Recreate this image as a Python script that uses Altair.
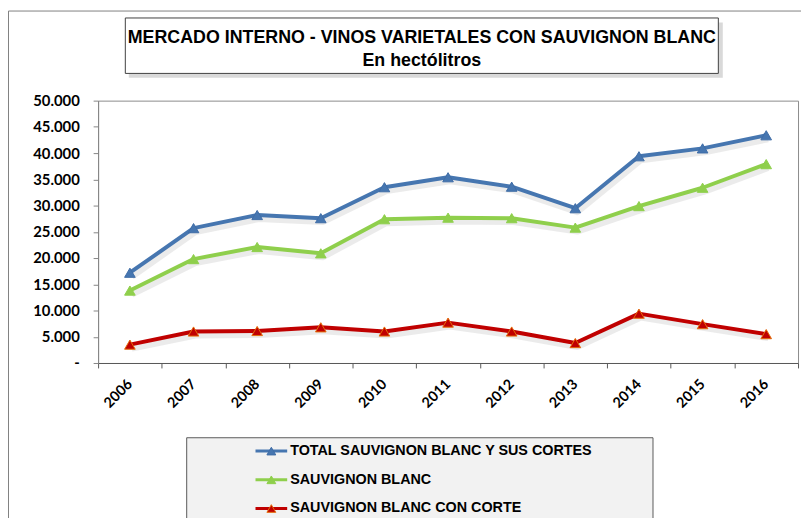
import altair as alt
import pandas as pd

# ---------------- data ----------------
years = ["2006", "2007", "2008", "2009", "2010", "2011", "2012", "2013", "2014", "2015", "2016"]
series = [
    "TOTAL SAUVIGNON BLANC Y SUS CORTES",
    "SAUVIGNON BLANC",
    "SAUVIGNON BLANC CON CORTE",
]
total = [17200, 25700, 28200, 27600, 33500, 35400, 33600, 29500, 39400, 40900, 43400]
sauvignon = [13800, 19800, 22100, 20900, 27400, 27700, 27600, 25800, 29900, 33400, 37900]
con_corte = [3500, 6000, 6100, 6800, 6000, 7700, 6000, 3800, 9400, 7400, 5500]
y_ticks = [0, 5000, 10000, 15000, 20000, 25000, 30000, 35000, 40000, 45000, 50000]
title_lines = ["MERCADO INTERNO - VINOS VARIETALES CON SAUVIGNON BLANC", "En hectólitros"]

line_colors = ["#4676b0", "#8fcf4c", "#c00000"]
marker_edges = ["#3f6ca6", "#8fcf4c", "#e46c0a"]

rows = []
for name, vals in zip(series, [total, sauvignon, con_corte]):
    for yr, v in zip(years, vals):
        rows.append({"year": yr, "serie": name, "value": v})
df = pd.DataFrame(rows)
legend_df = pd.DataFrame({"serie": series, "row": [0, 1, 2]})
one = pd.DataFrame({"k": [0]})

NARROW = "Liberation Sans Narrow, Arial Narrow, Liberation Sans, Arial, sans-serif"
LABEL_FONT = "Lato, Open Sans, sans-serif"
W, H = 707, 265

# ---------------- encodings ----------------
x_enc = alt.X(
    "year:O",
    sort=years,
    scale=alt.Scale(type="band", paddingInner=0, paddingOuter=0),
    axis=alt.Axis(
        title=None,
        tickBand="extent",
        labelAngle=-45,
        labelAlign="right",
        labelBaseline="middle",
        labelPadding=14,
        tickSize=5,
        labelFont=LABEL_FONT,
        labelFontSize=14.5,
        labelFontWeight="bold",
        labelColor="#000000",
        domainColor="#595959",
        tickColor="#595959",
        grid=False,
    ),
)
y_scale = alt.Scale(domain=[0, 50000], nice=False, zero=True)
y_axis = alt.Axis(
    title=None,
    values=y_ticks,
    labelExpr="datum.value == 0 ? '-\u00a0\u00a0' : replace(format(datum.value, ',.0f'), ',', '.')",
    tickSize=5,
    labelPadding=14,
    labelFont=LABEL_FONT,
    labelFontSize=15,
    labelFontWeight="bold",
    labelColor="#000000",
    domainColor="#868686",
    tickColor="#868686",
    grid=False,
)
color_enc = alt.Color("serie:N", scale=alt.Scale(domain=series, range=line_colors), legend=None)
stroke_enc = alt.Stroke("serie:N", scale=alt.Scale(domain=series, range=marker_edges), legend=None)

base = alt.Chart(df)

shadow = base.mark_line(color="#808080", opacity=0.16, strokeWidth=6, xOffset=2, yOffset=4, strokeJoin="round").encode(
    x=x_enc,
    y=alt.Y("value:Q", scale=y_scale, axis=None),
    detail="serie:N",
)
lines = base.mark_line(strokeWidth=4, strokeJoin="round").encode(
    x=x_enc,
    y=alt.Y("value:Q", scale=y_scale, axis=y_axis),
    color=color_enc,
)
points = base.mark_point(shape="triangle-up", filled=True, size=115, strokeWidth=1, opacity=1).encode(
    x=x_enc,
    y=alt.Y("value:Q", scale=y_scale, axis=None),
    color=color_enc,
    stroke=stroke_enc,
)

# ---------------- decorations ----------------
frame = alt.Chart(one).mark_rect(fill="transparent", stroke="#7f7f7f", strokeWidth=1).encode(
    x=alt.value(-90.5), x2=alt.value(720), y=alt.value(-90.5), y2=alt.value(520)
)
title_shadow = alt.Chart(one).mark_rect(fill="#d9d9d9").encode(
    x=alt.value(31), x2=alt.value(631), y=alt.value(-79), y2=alt.value(-23)
)
title_box = alt.Chart(one).mark_rect(fill="#ffffff", stroke="#404040", strokeWidth=1).encode(
    x=alt.value(27.5), x2=alt.value(626.5), y=alt.value(-83.5), y2=alt.value(-27.5)
)
title_text = alt.Chart(one).mark_text(
    text=title_lines,
    font=NARROW,
    fontSize=18,
    fontWeight="bold",
    color="#000000",
    align="center",
    baseline="alphabetic",
    lineHeight=24,
).encode(x=alt.value(327), y=alt.value(-58.5))

legend_box = alt.Chart(one).mark_rect(fill="#f2f2f2", stroke="#595959", strokeWidth=1).encode(
    x=alt.value(89.5), x2=alt.value(560.5), y=alt.value(340.5), y2=alt.value(440)
)
leg_y = alt.Y("row:Q", scale=alt.Scale(domain=[0, 2], range=[354, 412]), axis=None)
leg_line = alt.Chart(legend_df).mark_rule(strokeWidth=3).encode(
    x=alt.value(159), x2=alt.value(191), y=leg_y, color=color_enc
)
leg_pt = alt.Chart(legend_df).mark_point(shape="triangle-up", filled=True, size=80, strokeWidth=1, opacity=1).encode(
    x=alt.value(175), y=leg_y, color=color_enc, stroke=stroke_enc
)
leg_txt = alt.Chart(legend_df).mark_text(
    align="left", baseline="middle", font=NARROW, fontSize=14.5, fontWeight="bold", color="#000000"
).encode(x=alt.value(194), y=leg_y, text="serie:N")

chart = (
    alt.layer(
        frame, title_shadow, title_box, title_text, legend_box,
        shadow, lines, points, leg_line, leg_pt, leg_txt,
    )
    .resolve_scale(y="independent")
    .properties(
        width=W,
        height=H,
        autosize=alt.AutoSizeParams(type="none"),
        padding={"left": 91, "top": 91, "right": 3, "bottom": 154},
        background="#ffffff",
    )
    .configure_view(stroke="#8c8c8c", strokeWidth=1)
)

chart.save("out.html", embed_options={"renderer": "svg", "actions": False})
